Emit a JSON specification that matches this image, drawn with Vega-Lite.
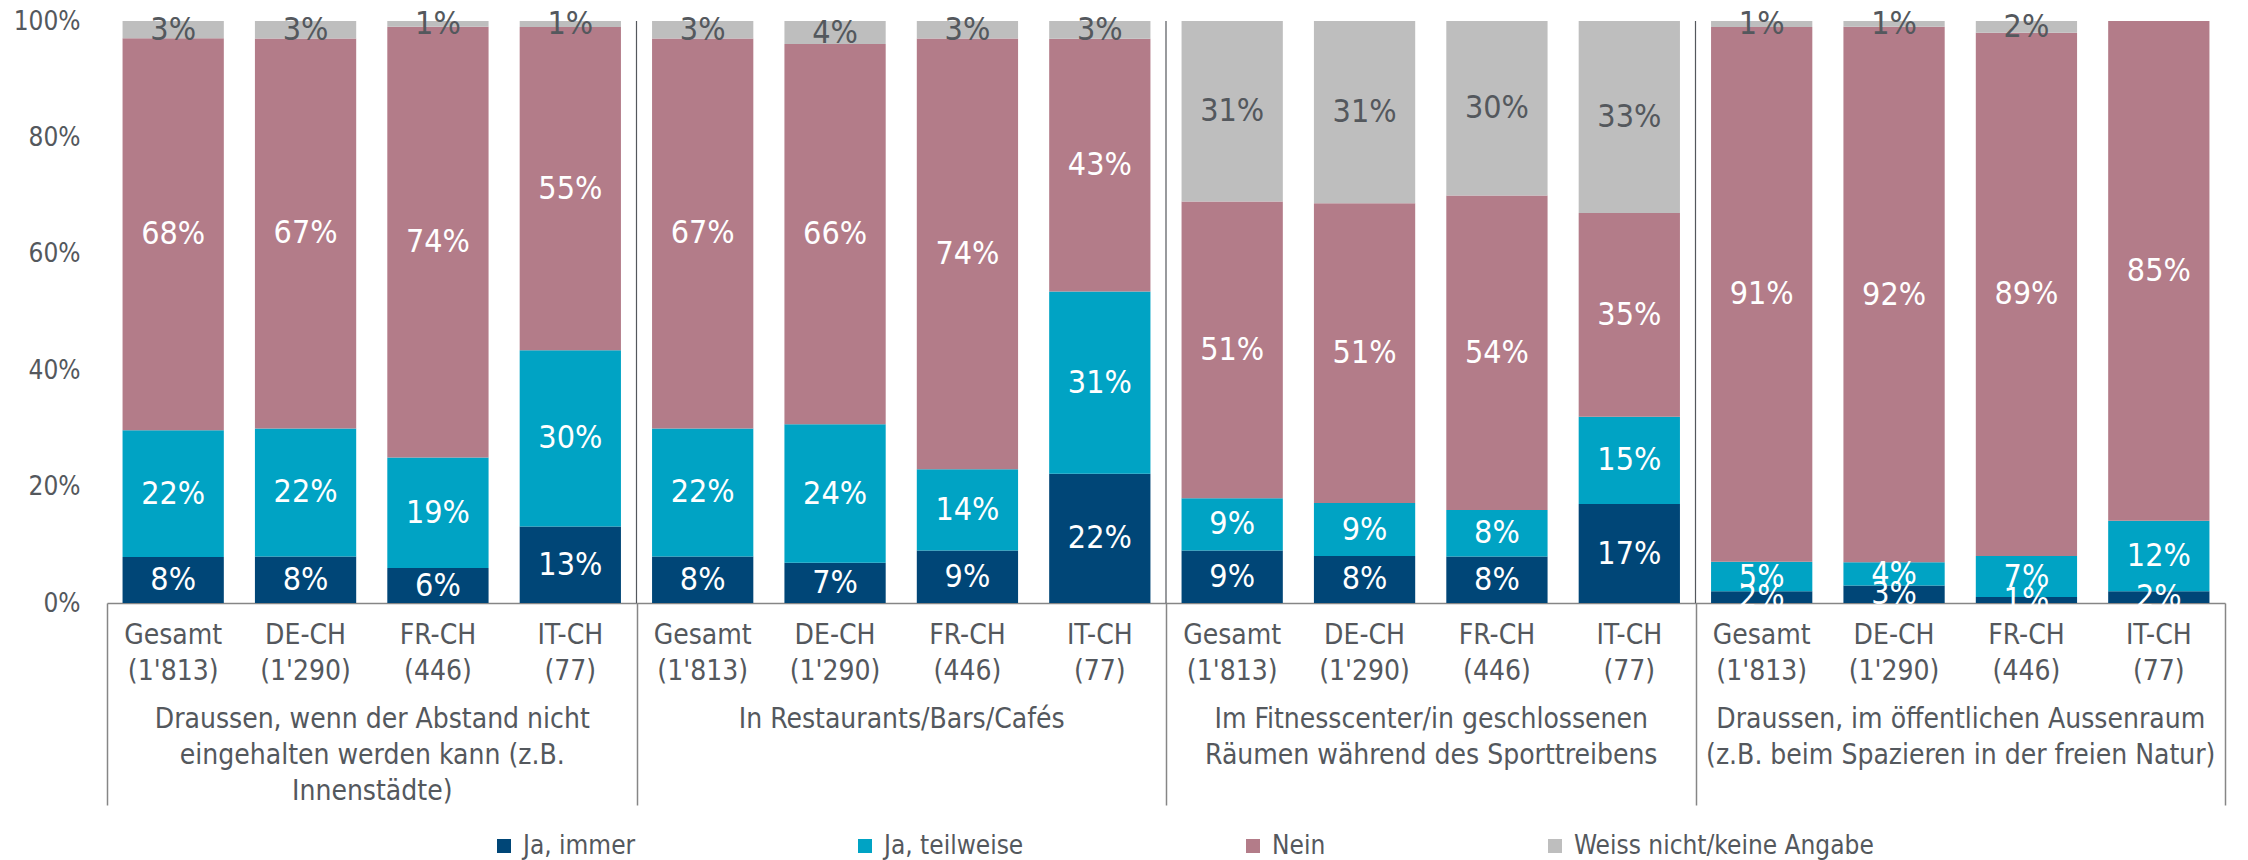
{
  "$schema": "https://vega.github.io/schema/vega-lite/v6.json",
  "width": 2118,
  "height": 582,
  "autosize": {"type": "none"},
  "padding": {"left": 107, "top": 21, "right": 23, "bottom": 257},
  "background": "white",
  "config": {
    "font": "DejaVu Sans Condensed",
    "view": {"stroke": null},
    "axis": {"labelColor": "#54585D", "labelFont": "DejaVu Sans Condensed"},
    "legend": {"labelFont": "DejaVu Sans Condensed"}
  },
  "datasets": {
    "antworten": [
      {"balken": "1|Gesamt|(1'813)", "antwort": "Ja, immer", "wert": 0.08},
      {"balken": "1|Gesamt|(1'813)", "antwort": "Ja, teilweise", "wert": 0.22},
      {"balken": "1|Gesamt|(1'813)", "antwort": "Nein", "wert": 0.68},
      {"balken": "1|Gesamt|(1'813)", "antwort": "Weiss nicht/keine Angabe", "wert": 0.03},
      {"balken": "1|DE-CH|(1'290)", "antwort": "Ja, immer", "wert": 0.08},
      {"balken": "1|DE-CH|(1'290)", "antwort": "Ja, teilweise", "wert": 0.22},
      {"balken": "1|DE-CH|(1'290)", "antwort": "Nein", "wert": 0.67},
      {"balken": "1|DE-CH|(1'290)", "antwort": "Weiss nicht/keine Angabe", "wert": 0.03},
      {"balken": "1|FR-CH|(446)", "antwort": "Ja, immer", "wert": 0.06},
      {"balken": "1|FR-CH|(446)", "antwort": "Ja, teilweise", "wert": 0.19},
      {"balken": "1|FR-CH|(446)", "antwort": "Nein", "wert": 0.74},
      {"balken": "1|FR-CH|(446)", "antwort": "Weiss nicht/keine Angabe", "wert": 0.01},
      {"balken": "1|IT-CH|(77)", "antwort": "Ja, immer", "wert": 0.13},
      {"balken": "1|IT-CH|(77)", "antwort": "Ja, teilweise", "wert": 0.30},
      {"balken": "1|IT-CH|(77)", "antwort": "Nein", "wert": 0.55},
      {"balken": "1|IT-CH|(77)", "antwort": "Weiss nicht/keine Angabe", "wert": 0.01},
      {"balken": "2|Gesamt|(1'813)", "antwort": "Ja, immer", "wert": 0.08},
      {"balken": "2|Gesamt|(1'813)", "antwort": "Ja, teilweise", "wert": 0.22},
      {"balken": "2|Gesamt|(1'813)", "antwort": "Nein", "wert": 0.67},
      {"balken": "2|Gesamt|(1'813)", "antwort": "Weiss nicht/keine Angabe", "wert": 0.03},
      {"balken": "2|DE-CH|(1'290)", "antwort": "Ja, immer", "wert": 0.07},
      {"balken": "2|DE-CH|(1'290)", "antwort": "Ja, teilweise", "wert": 0.24},
      {"balken": "2|DE-CH|(1'290)", "antwort": "Nein", "wert": 0.66},
      {"balken": "2|DE-CH|(1'290)", "antwort": "Weiss nicht/keine Angabe", "wert": 0.04},
      {"balken": "2|FR-CH|(446)", "antwort": "Ja, immer", "wert": 0.09},
      {"balken": "2|FR-CH|(446)", "antwort": "Ja, teilweise", "wert": 0.14},
      {"balken": "2|FR-CH|(446)", "antwort": "Nein", "wert": 0.74},
      {"balken": "2|FR-CH|(446)", "antwort": "Weiss nicht/keine Angabe", "wert": 0.03},
      {"balken": "2|IT-CH|(77)", "antwort": "Ja, immer", "wert": 0.22},
      {"balken": "2|IT-CH|(77)", "antwort": "Ja, teilweise", "wert": 0.31},
      {"balken": "2|IT-CH|(77)", "antwort": "Nein", "wert": 0.43},
      {"balken": "2|IT-CH|(77)", "antwort": "Weiss nicht/keine Angabe", "wert": 0.03},
      {"balken": "3|Gesamt|(1'813)", "antwort": "Ja, immer", "wert": 0.09},
      {"balken": "3|Gesamt|(1'813)", "antwort": "Ja, teilweise", "wert": 0.09},
      {"balken": "3|Gesamt|(1'813)", "antwort": "Nein", "wert": 0.51},
      {"balken": "3|Gesamt|(1'813)", "antwort": "Weiss nicht/keine Angabe", "wert": 0.31},
      {"balken": "3|DE-CH|(1'290)", "antwort": "Ja, immer", "wert": 0.08},
      {"balken": "3|DE-CH|(1'290)", "antwort": "Ja, teilweise", "wert": 0.09},
      {"balken": "3|DE-CH|(1'290)", "antwort": "Nein", "wert": 0.51},
      {"balken": "3|DE-CH|(1'290)", "antwort": "Weiss nicht/keine Angabe", "wert": 0.31},
      {"balken": "3|FR-CH|(446)", "antwort": "Ja, immer", "wert": 0.08},
      {"balken": "3|FR-CH|(446)", "antwort": "Ja, teilweise", "wert": 0.08},
      {"balken": "3|FR-CH|(446)", "antwort": "Nein", "wert": 0.54},
      {"balken": "3|FR-CH|(446)", "antwort": "Weiss nicht/keine Angabe", "wert": 0.30},
      {"balken": "3|IT-CH|(77)", "antwort": "Ja, immer", "wert": 0.17},
      {"balken": "3|IT-CH|(77)", "antwort": "Ja, teilweise", "wert": 0.15},
      {"balken": "3|IT-CH|(77)", "antwort": "Nein", "wert": 0.35},
      {"balken": "3|IT-CH|(77)", "antwort": "Weiss nicht/keine Angabe", "wert": 0.33},
      {"balken": "4|Gesamt|(1'813)", "antwort": "Ja, immer", "wert": 0.02},
      {"balken": "4|Gesamt|(1'813)", "antwort": "Ja, teilweise", "wert": 0.05},
      {"balken": "4|Gesamt|(1'813)", "antwort": "Nein", "wert": 0.91},
      {"balken": "4|Gesamt|(1'813)", "antwort": "Weiss nicht/keine Angabe", "wert": 0.01},
      {"balken": "4|DE-CH|(1'290)", "antwort": "Ja, immer", "wert": 0.03},
      {"balken": "4|DE-CH|(1'290)", "antwort": "Ja, teilweise", "wert": 0.04},
      {"balken": "4|DE-CH|(1'290)", "antwort": "Nein", "wert": 0.92},
      {"balken": "4|DE-CH|(1'290)", "antwort": "Weiss nicht/keine Angabe", "wert": 0.01},
      {"balken": "4|FR-CH|(446)", "antwort": "Ja, immer", "wert": 0.01},
      {"balken": "4|FR-CH|(446)", "antwort": "Ja, teilweise", "wert": 0.07},
      {"balken": "4|FR-CH|(446)", "antwort": "Nein", "wert": 0.89},
      {"balken": "4|FR-CH|(446)", "antwort": "Weiss nicht/keine Angabe", "wert": 0.02},
      {"balken": "4|IT-CH|(77)", "antwort": "Ja, immer", "wert": 0.02},
      {"balken": "4|IT-CH|(77)", "antwort": "Ja, teilweise", "wert": 0.12},
      {"balken": "4|IT-CH|(77)", "antwort": "Nein", "wert": 0.85}
    ],
    "gruppen": [
      {"nr": 1, "gruppe": "Draussen, wenn der Abstand nicht|eingehalten werden kann (z.B.|Innenstädte)"},
      {"nr": 2, "gruppe": "In Restaurants/Bars/Cafés"},
      {"nr": 3, "gruppe": "Im Fitnesscenter/in geschlossenen|Räumen während des Sporttreibens"},
      {"nr": 4, "gruppe": "Draussen, im öffentlichen Aussenraum|(z.B. beim Spazieren in der freien Natur)"}
    ]
  },
  "layer": [
    {
      "data": {"name": "antworten"},
      "encoding": {
        "x": {
          "field": "balken", "type": "nominal", "sort": null,
          "scale": {"paddingInner": 0.235, "paddingOuter": 0.1175},
          "axis": {
            "orient": "bottom", "title": null, "labelAngle": 0,
            "domain": true, "domainColor": "#868686", "domainWidth": 1.5,
            "ticks": false, "labelPadding": 18,
            "labelExpr": "datum.value ? [split(datum.value, '|')[1], split(datum.value, '|')[2]] : ''",
            "labelFontSize": 28, "labelLineHeight": 36, "labelBaseline": "top",
            "labelLimit": 1000, "labelOverlap": false
          }
        },
        "order": {"field": "antwort", "type": "nominal", "sort": "ascending"}
      },
      "layer": [
        {
          "mark": {"type": "bar", "stroke": null},
          "encoding": {
            "y": {
              "field": "wert", "type": "quantitative", "stack": "normalize",
              "scale": {"domain": [0, 1], "nice": false},
              "axis": {
                "title": null, "format": ".0%", "values": [0, 0.2, 0.4, 0.6, 0.8, 1],
                "grid": false, "domain": false, "ticks": false, "tickSize": 0,
                "labelPadding": 27, "labelFontSize": 26
              }
            },
            "color": {
              "field": "antwort", "type": "nominal",
              "scale": {
                "domain": ["Ja, immer", "Ja, teilweise", "Nein", "Weiss nicht/keine Angabe"],
                "range": ["#004677", "#00A3C4", "#B37C89", "#BEBEBE"]
              },
              "legend": {
                "orient": "none", "legendX": 384, "legendY": 812,
                "direction": "horizontal", "title": null,
                "symbolType": "square", "symbolSize": 196, "symbolStrokeWidth": 0,
                "labelFontSize": 26, "labelColor": "#54585D", "labelOffset": 6,
                "columnPadding": 216, "padding": 0, "labelLimit": 600
              }
            }
          }
        },
        {
          "mark": {"type": "text", "fontSize": 32, "align": "center", "baseline": "middle"},
          "encoding": {
            "y": {"field": "wert", "type": "quantitative", "stack": "normalize", "bandPosition": 0.5},
            "detail": {"field": "antwort"},
            "text": {"field": "wert", "type": "quantitative", "format": ".0%"},
            "color": {
              "condition": {"test": "datum.antwort === 'Weiss nicht/keine Angabe'", "value": "#54585D"},
              "value": "#FFFFFF"
            }
          }
        }
      ]
    },
    {
      "data": {"name": "gruppen"},
      "mark": {"type": "rule", "color": "#54585D", "strokeWidth": 1.2},
      "encoding": {
        "x": {
          "field": "gruppe", "type": "nominal", "sort": null, "bandPosition": 0,
          "scale": {"type": "band", "paddingInner": 0, "paddingOuter": 0},
          "axis": {
            "orient": "bottom", "title": null, "labelAngle": 0,
            "domain": false, "ticks": true, "tickBand": "extent",
            "tickSize": 202, "tickColor": "#868686", "tickWidth": 1.5,
            "labelPadding": -100,
            "labelExpr": "datum.value ? split(datum.value, '|') : ''",
            "labelFontSize": 28, "labelLineHeight": 36, "labelBaseline": "top",
            "labelLimit": 1000, "labelOverlap": false
          }
        },
        "strokeOpacity": {"condition": {"test": "datum.nr === 1", "value": 0}, "value": 1}
      }
    }
  ],
  "resolve": {"scale": {"x": "independent"}, "axis": {"x": "independent"}}
}
